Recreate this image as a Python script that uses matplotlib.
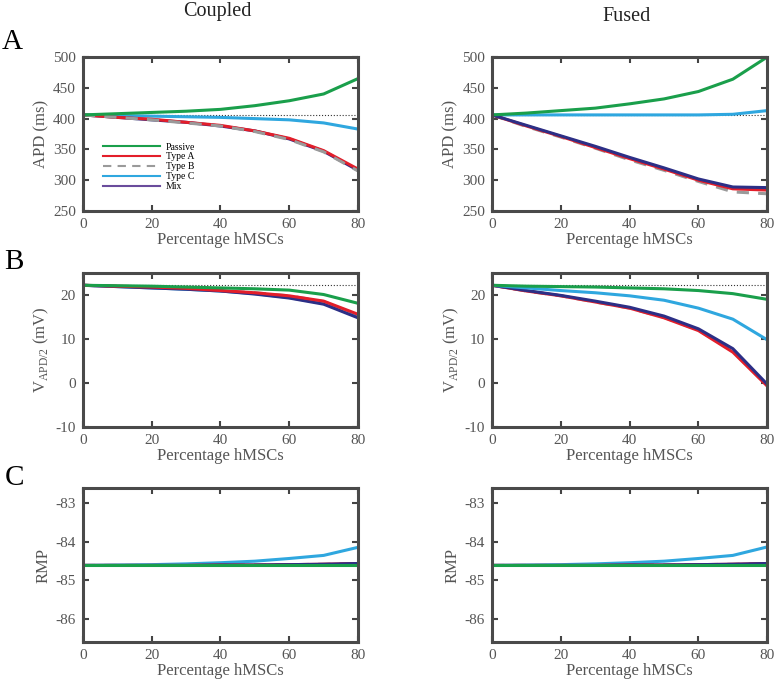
import numpy as np
import matplotlib.pyplot as plt
from matplotlib.lines import Line2D

plt.rcParams['font.family'] = ['Liberation Serif', 'DejaVu Serif']

x = [0, 10, 20, 30, 40, 50, 60, 70, 80]
names = ['Passive', 'Type A', 'Type B', 'Type C', 'Mix']

# APD (ms)
apd_coupled = {
    'Passive': [406, 408, 410, 412, 415, 421, 429, 440, 465],
    'Type A':  [406, 402, 399, 394, 389, 380, 368, 348, 318],
    'Type B':  [406, 402, 398, 393, 388, 379, 366, 346, 315],
    'Type C':  [406, 405, 404, 403, 402, 400, 398, 393, 383],
    'Mix':     [406, 402, 398, 394, 388, 380, 367, 347, 316],
}
apd_fused = {
    'Passive': [406, 409, 413, 417, 424, 432, 444, 464, 500],
    'Type A':  [406, 388, 371, 353, 335, 318, 300, 286, 284],
    'Type B':  [406, 387, 370, 352, 333, 316, 298, 281, 278],
    'Type C':  [406, 406, 406, 406, 406, 406, 406, 407, 413],
    'Mix':     [406, 389, 372, 355, 337, 320, 302, 289, 288],
}
# V_APD/2 (mV)
v_coupled = {
    'Passive': [22.2, 22.1, 22.0, 21.8, 21.6, 21.4, 21.1, 20.1, 18.1],
    'Type A':  [22.2, 22.0, 21.8, 21.5, 21.0, 20.5, 19.8, 18.6, 15.6],
    'Type B':  [22.2, 22.0, 21.8, 21.5, 21.0, 20.5, 19.8, 18.5, 15.4],
    'Type C':  [22.2, 21.9, 21.6, 21.3, 20.9, 20.3, 19.4, 18.1, 15.0],
    'Mix':     [22.2, 21.9, 21.6, 21.3, 20.9, 20.2, 19.3, 17.9, 14.8],
}
v_fused = {
    'Passive': [22.2, 22.0, 21.9, 21.8, 21.6, 21.4, 21.0, 20.3, 19.0],
    'Type A':  [22.2, 20.9, 19.8, 18.4, 17.0, 14.8, 11.9, 7.0, -0.7],
    'Type B':  [22.2, 20.9, 19.8, 18.4, 17.0, 14.9, 12.0, 7.2, -0.6],
    'Type C':  [22.2, 21.6, 21.0, 20.5, 19.8, 18.8, 17.0, 14.5, 9.8],
    'Mix':     [22.2, 21.0, 19.9, 18.6, 17.2, 15.2, 12.3, 7.8, -0.3],
}
# RMP (mV)
rmp_coupled = {
    'Passive': [-84.61, -84.61, -84.61, -84.61, -84.61, -84.61, -84.61, -84.61, -84.61],
    'Type A':  [-84.61, -84.61, -84.61, -84.61, -84.60, -84.60, -84.59, -84.58, -84.56],
    'Type B':  [-84.61, -84.61, -84.61, -84.61, -84.60, -84.60, -84.59, -84.58, -84.56],
    'Type C':  [-84.61, -84.60, -84.59, -84.57, -84.54, -84.50, -84.43, -84.35, -84.14],
    'Mix':     [-84.61, -84.61, -84.61, -84.61, -84.60, -84.60, -84.59, -84.58, -84.56],
}
rmp_fused = {
    'Passive': [-84.61, -84.61, -84.61, -84.61, -84.61, -84.61, -84.61, -84.61, -84.61],
    'Type A':  [-84.61, -84.61, -84.61, -84.61, -84.60, -84.60, -84.59, -84.58, -84.56],
    'Type B':  [-84.61, -84.61, -84.61, -84.61, -84.60, -84.60, -84.59, -84.58, -84.56],
    'Type C':  [-84.61, -84.60, -84.59, -84.57, -84.54, -84.50, -84.43, -84.35, -84.13],
    'Mix':     [-84.61, -84.61, -84.61, -84.61, -84.60, -84.60, -84.59, -84.58, -84.56],
}
baselines = [406, 22.2, -84.61]

colors = {'Passive': '#1a9f4b', 'Type A': '#e31e2a', 'Type B': '#9a9a9a',
          'Type C': '#2fa7df', 'Mix': '#2c2f86'}
styles = {'Passive': '-', 'Type A': '-', 'Type B': (0, (4, 3)), 'Type C': '-', 'Mix': '-'}
# which line ends up on top differs per panel
orders = [
    [['Type C', 'Mix', 'Type A', 'Type B', 'Passive'],
     ['Type C', 'Type B', 'Type A', 'Mix', 'Passive']],
    [['Type C', 'Type B', 'Mix', 'Type A', 'Passive'],
     ['Type B', 'Type A', 'Mix', 'Type C', 'Passive']],
    [['Type C', 'Type B', 'Type A', 'Mix', 'Passive'],
     ['Type C', 'Type B', 'Type A', 'Mix', 'Passive']],
]
gray = '#555555'

fig = plt.figure(figsize=(7.75, 6.86), dpi=100)
lefts = [0.107, 0.635]
bottoms = [0.6924, 0.3776, 0.0641]
w, h = 0.355, 0.2245

rows = [
    (apd_coupled, apd_fused, 'APD (ms)', (250, 500), [250, 300, 350, 400, 450, 500], ['250', '300', '350', '400', '450', '500']),
    (v_coupled, v_fused, r'V$_{\mathregular{APD/2}}$ (mV)', (-10, 25), [-10, 0, 10, 20], ['-10', '0', '10', '20']),
    (rmp_coupled, rmp_fused, 'RMP', (-86.6, -82.6), [-86, -85, -84, -83], ['-86', '-85', '-84', '-83']),
]

for r, (dc, df, ylab, ylim, yt, ytl) in enumerate(rows):
    for c, data in enumerate([dc, df]):
        ax = fig.add_axes([lefts[c], bottoms[r], w, h])
        ax.plot([0, 80], [baselines[r]] * 2, color='#333333', ls=':', lw=0.8, zorder=1)
        for n in orders[r][c]:
            ax.plot(x, data[n], color=colors[n], ls=styles[n], lw=2.2, zorder=2)
        ax.set_xlim(0, 80)
        ax.set_ylim(*ylim)
        ax.set_xticks([0, 20, 40, 60, 80])
        ax.set_yticks(yt)
        ax.set_yticklabels(ytl)
        ax.tick_params(direction='in', top=True, right=True, length=4, width=1.5,
                       colors='#444444', labelcolor=gray, labelsize=11)
        ax.tick_params(axis='x', pad=5)
        ax.tick_params(axis='y', pad=5)
        for s in ax.spines.values():
            s.set_linewidth(2.2)
            s.set_color('#4a4a4a')
        ax.set_ylabel(ylab, color=gray, fontsize=12, labelpad=3)
        ax.set_xlabel('Percentage hMSCs', color=gray, fontsize=12, labelpad=1)

        if r == 0 and c == 0:
            handles = [Line2D([], [], color=colors[n], ls=styles[n], lw=1.5) for n in names]
            handles[4] = Line2D([], [], color='#6a4c9c', lw=1.5)
            ax.legend(handles, names, loc='upper left', bbox_to_anchor=(0.06, 0.47),
                      frameon=False, fontsize=7, handlelength=5.8, labelspacing=0.1,
                      handletextpad=0.6, borderaxespad=0)

fig.text(0.281, 0.976, 'Coupled', ha='center', va='baseline', fontsize=14.5, color='#222222')
fig.text(0.809, 0.969, 'Fused', ha='center', va='baseline', fontsize=14.5, color='#222222')
fig.text(0.002, 0.9286, 'A', ha='left', va='baseline', fontsize=21)
fig.text(0.006, 0.608, 'B', ha='left', va='baseline', fontsize=21)
fig.text(0.006, 0.293, 'C', ha='left', va='baseline', fontsize=21)

fig.savefig('out.png', dpi=100)
